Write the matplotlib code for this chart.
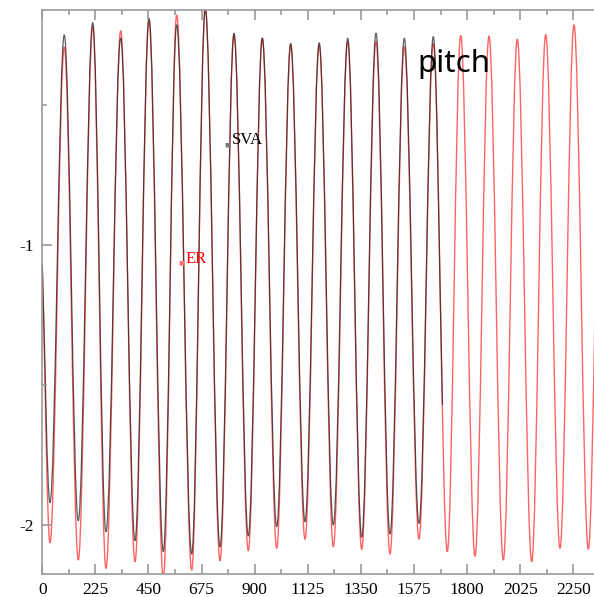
import numpy as np
import matplotlib.pyplot as plt
from matplotlib.path import Path
from matplotlib.patches import PathPatch
from matplotlib.ticker import MultipleLocator


# --------------------------------------------------
# Data (extrema of each oscillation)
# --------------------------------------------------

trough_x = [32.6, 152.5, 269.9, 392.8, 512.7, 633.1, 753.0, 872.9, 993.2, 1113.1,
            1233.1, 1353.4, 1473.3, 1596.2, 1716.1, 1833.5, 1953.4, 2073.7, 2193.6, 2313.6]
peak_x = [93.2, 213.6, 332.2, 452.1, 569.5, 690.7, 812.3, 932.2, 1052.5, 1173.3,
          1294.1, 1414.0, 1533.9, 1656.8, 1772.9, 1892.8, 2012.7, 2133.0, 2252.9, 2373.0]

er_trough = [-2.063, -2.125, -2.155, -2.131, -2.19, -2.161, -2.128, -2.092, -2.083, -2.051,
             -2.078, -2.087, -2.104, -2.050, -2.095, -2.111, -2.125, -2.131, -2.083, -2.086]
er_peak = [-0.293, -0.220, -0.235, -0.199, -0.179, -0.150, -0.250, -0.262, -0.286, -0.286,
           -0.274, -0.274, -0.292, -0.280, -0.252, -0.254, -0.265, -0.249, -0.214, -0.220]
er_start = -1.07

sva_trough = [-1.920, -1.985, -2.024, -2.056, -2.095, -2.104, -2.078, -2.039, -2.006, -1.988,
              -2.000, -2.044, -2.032, -1.994]
sva_peak = [-0.250, -0.206, -0.261, -0.190, -0.214, -0.160, -0.244, -0.261, -0.280, -0.278,
            -0.262, -0.244, -0.262, -0.256]
sva_start = -1.07
sva_end_x = 1695.8
sva_end = -1.571

x_ticks = [0, 225, 450, 675, 900, 1125, 1350, 1575, 1800, 2025, 2250]
y_ticks = [-2, -1]


# --------------------------------------------------
# Helper: smooth curve through extrema (flat tangent at each extremum)
# --------------------------------------------------

def wave_path(xs, ys, flat, k=0.36):
    verts = [(xs[0], ys[0])]
    codes = [Path.MOVETO]
    for i in range(len(xs) - 1):
        dx = xs[i + 1] - xs[i]
        dy = ys[i + 1] - ys[i]
        if flat[i]:
            c1 = (xs[i] + k * dx, ys[i])
        else:
            c1 = (xs[i] + dx / 3, ys[i] + dy / 3)
        if flat[i + 1]:
            c2 = (xs[i + 1] - k * dx, ys[i + 1])
        else:
            c2 = (xs[i + 1] - dx / 3, ys[i + 1] - dy / 3)
        verts += [c1, c2, (xs[i + 1], ys[i + 1])]
        codes += [Path.CURVE4] * 3
    return Path(verts, codes)


def interleave(a, b):
    out = []
    for u, v in zip(a, b):
        out += [u, v]
    return out


er_x = [0] + interleave(trough_x, peak_x)
er_y = [er_start] + interleave(er_trough, er_peak)
er_flat = [False] + [True] * (len(er_x) - 1)

n_sva = len(sva_peak)
sva_x = [0] + interleave(trough_x[:n_sva], peak_x[:n_sva]) + [sva_end_x]
sva_y = [sva_start] + interleave(sva_trough, sva_peak) + [sva_end]
sva_flat = [False] + [True] * (len(sva_x) - 2) + [False]


# --------------------------------------------------
# Plot
# --------------------------------------------------

fig = plt.figure(figsize=(5.94, 5.97), dpi=100)
ax = fig.add_axes([0.0712, 0.0385, 0.9288, 0.9447])

ax.add_patch(PathPatch(wave_path(er_x, er_y, er_flat), facecolor="none",
                       edgecolor="#ff3030", lw=1.0, alpha=0.75))
ax.add_patch(PathPatch(wave_path(sva_x, sva_y, sva_flat), facecolor="none",
                       edgecolor="#1a1a1a", lw=0.9, alpha=0.7))

ax.set_xlim(0, 2337.7)
ax.set_ylim(-2.175, -0.161)

ax.set_xticks(x_ticks)
ax.set_xticklabels([str(v) for v in x_ticks])
ax.xaxis.set_minor_locator(MultipleLocator(112.5))
ax.set_yticks(y_ticks)
ax.set_yticklabels([str(v) for v in y_ticks])
ax.yaxis.set_minor_locator(MultipleLocator(0.5))

grey = "#999999"
for side in ["left", "top", "bottom"]:
    ax.spines[side].set_color(grey)
    ax.spines[side].set_linewidth(1.2)
ax.spines["right"].set_visible(False)

ax.tick_params(which="both", direction="in", top=True, right=False, colors=grey,
               labelcolor="black", width=1.2)
ax.tick_params(which="major", length=7.5)
ax.tick_params(which="minor", length=3.8)
ax.tick_params(axis="x", pad=6)
ax.tick_params(axis="y", pad=6)
for lab in ax.get_xticklabels() + ax.get_yticklabels():
    lab.set_fontfamily("Liberation Serif")
    lab.set_fontsize(12.5)

# legend-like labels
ax.text(0.3353, 0.760, "\u25a0", transform=ax.transAxes, fontsize=4.5, color="#777777",
        ha="center", va="center")
ax.text(0.3433, 0.7624, "SVA", transform=ax.transAxes, fontsize=12, color="black",
        family="Liberation Serif", va="baseline")
ax.text(0.252, 0.552, "\u25a0", transform=ax.transAxes, fontsize=4.5, color="#ff7070",
        ha="center", va="center")
ax.text(0.2587, 0.552, "ER", transform=ax.transAxes, fontsize=12, color="red",
        family="Liberation Serif", va="baseline")

ax.text(0.679, 0.8906, "pitch", transform=ax.transAxes, fontsize=22.5, color="black",
        family="Noto Sans", va="baseline")

plt.savefig("out.png", dpi=100)
